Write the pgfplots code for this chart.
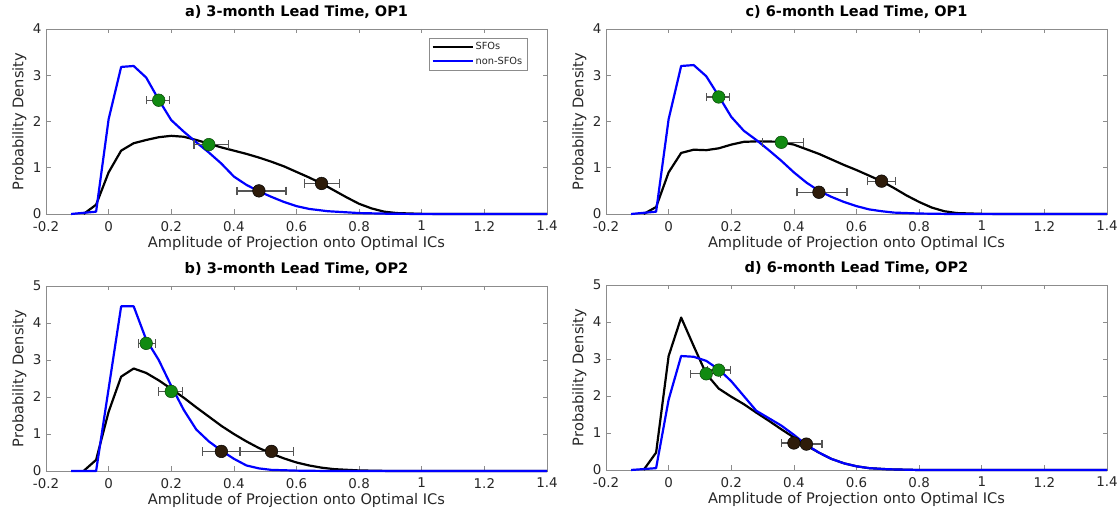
\documentclass[border=0pt]{standalone}
\usepackage{fontspec}
\setmainfont{DejaVu Sans}
\usepackage{pgfplots}
\pgfplotsset{compat=1.18}
\definecolor{axgrey}{HTML}{8C8C8C}
\definecolor{txgrey}{HTML}{262626}
\definecolor{dotgreen}{HTML}{118A11}
\definecolor{dotbrown}{HTML}{2E1C0A}
\definecolor{barcol}{HTML}{555555}
\newcommand{\ttl}[1]{\fontsize{14.5}{16}\selectfont\bfseries #1}

\pgfplotsset{
  panel/.style={
    scale only axis, width=501pt, height=185pt,
    anchor=south west,
    xmin=-0.2, xmax=1.4,
    xtick={-0.2,0,0.2,0.4,0.6,0.8,1,1.2,1.4},
    xticklabels={-0.2,0,0.2,0.4,0.6,0.8,1,1.2,1.4},
    tick align=inside, major tick length=4.5pt,
    axis line style={axgrey, line width=0.6pt},
    tick style={axgrey, line width=0.6pt},
    tick label style={txgrey, font=\fontsize{13.4}{15}\selectfont, inner sep=1pt},
    xticklabel style={yshift=-6pt},
    yticklabel style={xshift=-3.5pt},
    xlabel={Amplitude of Projection onto Optimal ICs},
    ylabel={Probability Density},
    label style={txgrey, font=\fontsize{14.6}{16}\selectfont},
    xlabel style={at={(axis description cs:0.5,-0.16)}, anchor=center},
    ylabel style={at={(axis description cs:-0.053,0.5)}, anchor=center},
    title style={at={(axis description cs:0.5,1.103)}, anchor=center, yshift=-8pt},
    clip=false,
  },
  sfo/.style={black, line width=2.2pt, line join=round},
  non/.style={blue, line width=2.2pt, line join=round},
  ebar/.style={only marks, mark=*, mark size=6.3pt,
    error bars/x dir=both, error bars/x explicit,
    error bars/error bar style={barcol, line width=1.3pt},
    error bars/error mark options={barcol, line width=1.3pt, mark size=4.2pt, rotate=90}},
  gdot/.style={ebar, mark options={fill=dotgreen, draw=dotgreen!50!black, line width=0.5pt}},
  bdot/.style={ebar, mark options={fill=dotbrown, draw=black, line width=0.5pt}},
}

\begin{document}
\begin{tikzpicture}[x=1pt,y=1pt]
\useasboundingbox (0,0) rectangle (1118,510);

% a) 3-month, OP1
\begin{axis}[panel, at={(46pt,296pt)}, ymin=0, ymax=4, ytick={0,1,2,3,4},
  yticklabels={0,1,2,3,4},
  title={\ttl{a) 3-month Lead Time, OP1}},
  legend style={at={(0.96,0.952)}, anchor=north east, draw=axgrey,
    font=\fontsize{9.8}{11}\selectfont, cells={anchor=west, txgrey},
    inner sep=2.5pt, row sep=1.5pt},
  legend image code/.code={\draw[#1] (0pt,0pt) -- (40pt,0pt);}]
\addplot[sfo] coordinates {
  (-0.08,0) (-0.04,0.2) (0,0.9) (0.04,1.37) (0.08,1.53) (0.12,1.6)
  (0.16,1.66) (0.2,1.69) (0.24,1.67) (0.28,1.6) (0.32,1.52) (0.36,1.44)
  (0.4,1.37) (0.44,1.3) (0.48,1.22) (0.52,1.13) (0.56,1.03) (0.6,0.91)
  (0.64,0.79) (0.68,0.66) (0.72,0.51) (0.76,0.36) (0.8,0.22) (0.84,0.12)
  (0.88,0.05) (0.92,0.02) (1.0,0.003) (1.1,0) (1.4,0)};
\addlegendentry{SFOs}
\addplot[non] coordinates {
  (-0.12,0) (-0.04,0.05) (0,2.05) (0.04,3.18) (0.08,3.2) (0.12,2.95)
  (0.16,2.47) (0.2,2.03) (0.24,1.78) (0.28,1.55) (0.32,1.33) (0.36,1.09)
  (0.4,0.81) (0.44,0.63) (0.48,0.49) (0.52,0.37) (0.56,0.26) (0.6,0.17)
  (0.64,0.11) (0.7,0.06) (0.8,0.02) (0.9,0.005) (1.0,0) (1.4,0)};
\addlegendentry{non-SFOs}
\addplot[forget plot, gdot] coordinates {
  (0.16,2.46) += (0.035,0) -= (0.04,0)
  (0.32,1.5) += (0.062,0) -= (0.047,0)};
\addplot[forget plot, bdot] coordinates {
  (0.48,0.5) += (0.086,0) -= (0.07,0)
  (0.68,0.66) += (0.058,0) -= (0.054,0)};
\end{axis}

% c) 6-month, OP1
\begin{axis}[panel, at={(606pt,296pt)}, ymin=0, ymax=4, ytick={0,1,2,3,4},
  yticklabels={0,1,2,3,4},
  title={\ttl{c) 6-month Lead Time, OP1}}]
\addplot[sfo] coordinates {
  (-0.08,0) (-0.04,0.15) (0,0.9) (0.04,1.32) (0.08,1.39) (0.12,1.38)
  (0.16,1.42) (0.2,1.5) (0.24,1.56) (0.28,1.57) (0.32,1.57) (0.36,1.55)
  (0.4,1.5) (0.44,1.4) (0.48,1.3) (0.52,1.18) (0.56,1.06) (0.6,0.95)
  (0.64,0.83) (0.68,0.71) (0.72,0.56) (0.76,0.4) (0.8,0.26) (0.84,0.14)
  (0.88,0.06) (0.92,0.02) (1.0,0.003) (1.1,0) (1.4,0)};
\addplot[non] coordinates {
  (-0.12,0) (-0.04,0.05) (0,2.05) (0.04,3.2) (0.08,3.22) (0.12,2.98)
  (0.16,2.55) (0.2,2.1) (0.24,1.8) (0.28,1.6) (0.32,1.38) (0.36,1.15)
  (0.4,0.9) (0.44,0.68) (0.48,0.5) (0.52,0.37) (0.56,0.26) (0.6,0.17)
  (0.64,0.1) (0.68,0.06) (0.72,0.03) (0.8,0.01) (0.9,0) (1.4,0)};
\addplot[gdot] coordinates {
  (0.16,2.53) += (0.035,0) -= (0.04,0)
  (0.36,1.55) += (0.07,0) -= (0.06,0)};
\addplot[bdot] coordinates {
  (0.48,0.47) += (0.09,0) -= (0.07,0)
  (0.68,0.71) += (0.045,0) -= (0.045,0)};
\end{axis}

% b) 3-month, OP2
\begin{axis}[panel, at={(46pt,39pt)}, ymin=0, ymax=5, ytick={0,1,2,3,4,5},
  yticklabels={0,1,2,3,4,5},
  title={\ttl{b) 3-month Lead Time, OP2}}]
\addplot[sfo] coordinates {
  (-0.08,0) (-0.04,0.3) (0,1.6) (0.04,2.55) (0.08,2.77) (0.12,2.65)
  (0.16,2.45) (0.2,2.22) (0.24,1.98) (0.28,1.72) (0.32,1.47) (0.36,1.22)
  (0.4,1.0) (0.44,0.8) (0.48,0.62) (0.52,0.47) (0.56,0.34) (0.6,0.23)
  (0.64,0.15) (0.68,0.09) (0.72,0.05) (0.8,0.015) (0.9,0) (1.4,0)};
\addplot[non] coordinates {
  (-0.12,0) (-0.04,0) (0.04,4.45) (0.08,4.45) (0.12,3.55) (0.16,3.0)
  (0.2,2.3) (0.24,1.65) (0.28,1.12) (0.32,0.8) (0.36,0.55) (0.4,0.33)
  (0.44,0.15) (0.48,0.07) (0.52,0.03) (0.6,0.01) (0.7,0) (1.4,0)};
\addplot[gdot] coordinates {
  (0.12,3.45) += (0.03,0) -= (0.025,0)
  (0.2,2.15) += (0.035,0) -= (0.04,0)};
\addplot[bdot] coordinates {
  (0.36,0.53) += (0.06,0) -= (0.06,0)
  (0.52,0.53) += (0.07,0) -= (0.1,0)};
\end{axis}

% d) 6-month, OP2
\begin{axis}[panel, at={(606pt,40pt)}, ymin=0, ymax=5, ytick={0,1,2,3,4,5},
  yticklabels={0,1,2,3,4,5},
  title={\ttl{d) 6-month Lead Time, OP2}}]
\addplot[sfo] coordinates {
  (-0.08,0) (-0.04,0.47) (0,3.08) (0.04,4.12) (0.08,3.35) (0.12,2.6)
  (0.16,2.2) (0.2,1.98) (0.24,1.78) (0.28,1.55) (0.32,1.33) (0.36,1.1)
  (0.4,0.88) (0.44,0.66) (0.48,0.47) (0.52,0.3) (0.56,0.18) (0.6,0.1)
  (0.64,0.05) (0.7,0.02) (0.8,0) (1.4,0)};
\addplot[non] coordinates {
  (-0.12,0) (-0.04,0.05) (0,1.9) (0.04,3.08) (0.08,3.06) (0.12,2.95)
  (0.16,2.72) (0.2,2.4) (0.24,2.0) (0.28,1.6) (0.32,1.4) (0.36,1.2)
  (0.4,0.95) (0.44,0.68) (0.48,0.47) (0.52,0.3) (0.56,0.18) (0.6,0.1)
  (0.64,0.05) (0.7,0.02) (0.8,0) (1.4,0)};
\addplot[gdot] coordinates {
  (0.12,2.6) += (0.045,0) -= (0.05,0)
  (0.16,2.7) += (0.038,0) -= (0.036,0)};
\addplot[bdot] coordinates {
  (0.4,0.73) += (0.04,0) -= (0.04,0)
  (0.44,0.7) += (0.05,0) -= (0.04,0)};
\end{axis}
\end{tikzpicture}
\end{document}
